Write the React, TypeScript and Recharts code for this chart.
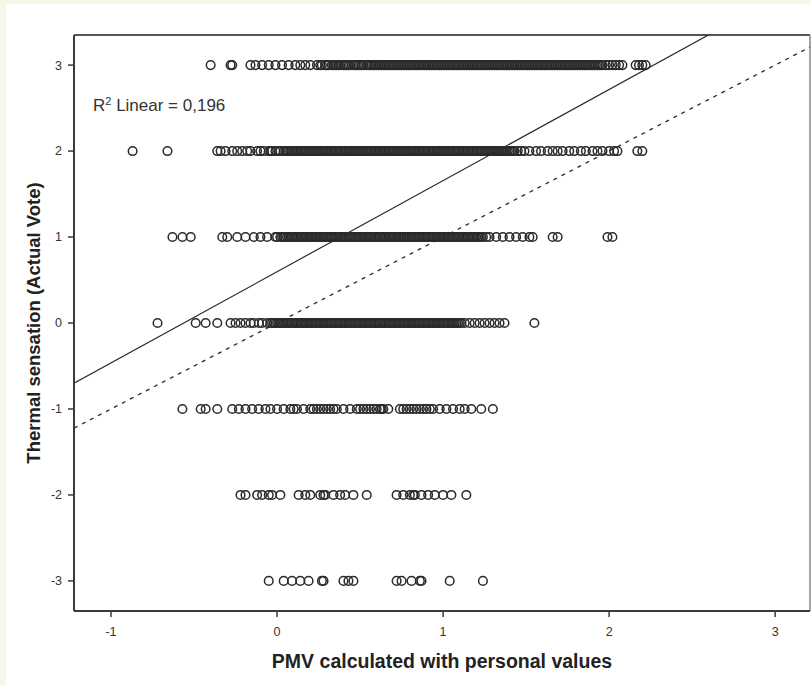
import React from "react";
import {
  ScatterChart,
  Scatter,
  XAxis,
  YAxis,
  ReferenceLine,
} from "recharts";

// x values (PMV) for each actual-vote row
const VOTE_3 = [
  -0.4, -0.28, -0.27, -0.16, -0.13, -0.09, -0.05, -0.01, 0.03, 0.07, 0.11, 0.14, 0.17, 0.2, 0.24, 0.26,
  0.29, 0.31, 0.34, 0.36, 0.38, 0.41, 0.43, 0.46, 0.48, 0.5, 0.52, 0.55, 0.57, 0.59, 0.61, 0.62, 0.64,
  0.66, 0.67, 0.69, 0.71, 0.72, 0.74, 0.76, 0.77, 0.79, 0.81, 0.82, 0.84, 0.86, 0.87, 0.89, 0.91, 0.93,
  0.95, 0.96, 0.98, 1.0, 1.02, 1.03, 1.05, 1.07, 1.08, 1.1, 1.12, 1.13, 1.15, 1.17, 1.18, 1.2, 1.22,
  1.23, 1.25, 1.27, 1.28, 1.3, 1.32, 1.33, 1.35, 1.37, 1.38, 1.4, 1.42, 1.43, 1.45, 1.47, 1.48, 1.5,
  1.52, 1.54, 1.56, 1.57, 1.59, 1.61, 1.62, 1.64, 1.66, 1.68, 1.7, 1.71, 1.73, 1.75, 1.77, 1.79, 1.8,
  1.82, 1.84, 1.86, 1.88, 1.9, 1.92, 1.94, 1.96, 1.98, 2.0, 2.02, 2.04, 2.06, 2.08, 2.16, 2.18, 2.2,
  2.22,
];
const VOTE_3_DENSE = [
  0.27, 0.3, 0.33, 0.35, 0.37, 0.4, 0.42, 0.44, 0.47, 0.49, 0.51, 0.54, 0.56, 0.58, 0.6, 0.63, 0.65,
  0.68, 0.7, 0.73, 0.75, 0.78, 0.8, 0.83, 0.85, 0.88, 0.9, 0.92, 0.94, 0.97, 0.99, 1.01, 1.04, 1.06,
  1.09, 1.11, 1.14, 1.16, 1.19, 1.21, 1.24, 1.26, 1.29, 1.31, 1.34, 1.36, 1.39, 1.41, 1.44, 1.46, 1.49,
  1.51, 1.53, 1.55, 1.58, 1.6, 1.63, 1.65, 1.67, 1.69, 1.72, 1.74, 1.76, 1.78, 1.81, 1.83, 1.85, 1.87,
  1.89, 1.91, 1.93, 1.95,
];
const VOTE_2 = [
  -0.87, -0.66, -0.36, -0.34, -0.31, -0.27, -0.24, -0.21, -0.18, -0.16, -0.12, -0.1, -0.08, -0.05, -0.03,
  0.01, 0.04, 0.06, 0.08, 0.1, 0.12, 0.14, 0.16, 0.18, 0.2, 0.22, 0.24, 0.25, 0.27, 0.29, 0.3, 0.32,
  0.34, 0.35, 0.37, 0.39, 0.4, 0.42, 0.44, 0.45, 0.47, 0.49, 0.5, 0.52, 0.54, 0.55, 0.57, 0.59, 0.6,
  0.62, 0.64, 0.65, 0.67, 0.69, 0.7, 0.72, 0.74, 0.75, 0.77, 0.79, 0.8, 0.82, 0.84, 0.85, 0.87, 0.89,
  0.9, 0.92, 0.94, 0.95, 0.97, 0.99, 1.0, 1.02, 1.04, 1.05, 1.07, 1.09, 1.1, 1.12, 1.14, 1.15, 1.17,
  1.19, 1.2, 1.22, 1.24, 1.25, 1.27, 1.29, 1.3, 1.32, 1.34, 1.35, 1.37, 1.39, 1.4, 1.42, 1.45, 1.49,
  1.52, 1.56, 1.59, 1.63, 1.66, 1.69, 1.72, 1.76, 1.79, 1.83, 1.86, 1.9, 1.93, 1.96, 2.0, 2.03, 2.05,
  2.17, 2.2,
];
const VOTE_2_DENSE = [
  -0.04, -0.01, 0.02, 0.05, 0.07, 0.09, 0.11, 0.13, 0.15, 0.17, 0.19, 0.21, 0.23, 0.26, 0.28, 0.31,
  0.33, 0.36, 0.38, 0.41, 0.43, 0.46, 0.48, 0.51, 0.53, 0.56, 0.58, 0.61, 0.63, 0.66, 0.68, 0.71, 0.73,
  0.76, 0.78, 0.81, 0.83, 0.86, 0.88, 0.91, 0.93, 0.96, 0.98, 1.01, 1.03, 1.06, 1.08, 1.11, 1.13, 1.16,
  1.18, 1.21, 1.23, 1.26, 1.28, 1.31, 1.33, 1.36, 1.38, 1.41, 1.43, 1.47,
];
const VOTE_1 = [
  -0.63, -0.57, -0.52, -0.33, -0.3, -0.24, -0.19, -0.14, -0.1, -0.06, -0.01, 0.02, 0.04, 0.06, 0.08,
  0.09, 0.11, 0.13, 0.14, 0.16, 0.18, 0.19, 0.21, 0.23, 0.24, 0.26, 0.28, 0.29, 0.31, 0.33, 0.34, 0.36,
  0.38, 0.39, 0.41, 0.43, 0.44, 0.46, 0.48, 0.49, 0.51, 0.53, 0.54, 0.56, 0.58, 0.59, 0.61, 0.63, 0.64,
  0.66, 0.68, 0.69, 0.71, 0.73, 0.74, 0.76, 0.78, 0.79, 0.81, 0.83, 0.84, 0.86, 0.88, 0.89, 0.91, 0.93,
  0.94, 0.96, 0.98, 0.99, 1.01, 1.03, 1.04, 1.06, 1.08, 1.09, 1.11, 1.13, 1.14, 1.16, 1.18, 1.19, 1.21,
  1.23, 1.24, 1.28, 1.32, 1.36, 1.4, 1.44, 1.48, 1.52, 1.54, 1.66, 1.69, 1.99, 2.02,
];
const VOTE_1_DENSE = [
  0.0, 0.03, 0.05, 0.07, 0.1, 0.12, 0.15, 0.17, 0.2, 0.22, 0.25, 0.27, 0.3, 0.32, 0.35, 0.37, 0.4,
  0.42, 0.45, 0.47, 0.5, 0.52, 0.55, 0.57, 0.6, 0.62, 0.65, 0.67, 0.7, 0.72, 0.75, 0.77, 0.8, 0.82,
  0.85, 0.87, 0.9, 0.92, 0.95, 0.97, 1.0, 1.02, 1.05, 1.07, 1.1, 1.12, 1.15, 1.17, 1.2, 1.22, 1.26,
];
const VOTE_0 = [
  -0.72, -0.49, -0.43, -0.36, -0.28, -0.25, -0.22, -0.19, -0.16, -0.14, -0.11, -0.09, -0.06, -0.04,
  -0.02, -0.01, 0.01, 0.03, 0.04, 0.06, 0.08, 0.09, 0.11, 0.13, 0.14, 0.16, 0.18, 0.19, 0.21, 0.23,
  0.24, 0.26, 0.28, 0.29, 0.31, 0.33, 0.34, 0.36, 0.38, 0.39, 0.41, 0.43, 0.44, 0.46, 0.48, 0.49, 0.51,
  0.53, 0.54, 0.56, 0.58, 0.59, 0.61, 0.63, 0.64, 0.66, 0.68, 0.69, 0.71, 0.73, 0.74, 0.76, 0.78, 0.79,
  0.81, 0.83, 0.84, 0.86, 0.88, 0.89, 0.91, 0.93, 0.94, 0.96, 0.98, 0.99, 1.01, 1.03, 1.04, 1.06, 1.08,
  1.1, 1.13, 1.16, 1.19, 1.22, 1.25, 1.28, 1.31, 1.34, 1.37, 1.55,
];
const VOTE_0_DENSE = [
  -0.03, 0.0, 0.02, 0.05, 0.07, 0.1, 0.12, 0.15, 0.17, 0.2, 0.22, 0.25, 0.27, 0.3, 0.32, 0.35, 0.37,
  0.4, 0.42, 0.45, 0.47, 0.5, 0.52, 0.55, 0.57, 0.6, 0.62, 0.65, 0.67, 0.7, 0.72, 0.75, 0.77, 0.8, 0.82,
  0.85, 0.87, 0.9, 0.92, 0.95, 0.97, 1.0, 1.02, 1.05, 1.07, 1.09, 1.11,
];
const VOTE_M1 = [
  -0.57, -0.46, -0.43, -0.36, -0.27, -0.23, -0.19, -0.15, -0.11, -0.07, -0.04, 0.0, 0.04, 0.08, 0.1,
  0.12, 0.16, 0.2, 0.22, 0.24, 0.26, 0.28, 0.3, 0.32, 0.34, 0.36, 0.4, 0.44, 0.48, 0.5, 0.52, 0.54,
  0.56, 0.58, 0.6, 0.62, 0.63, 0.64, 0.67, 0.74, 0.76, 0.78, 0.8, 0.82, 0.84, 0.86, 0.88, 0.9, 0.92,
  0.94, 0.98, 1.02, 1.06, 1.1, 1.13, 1.17, 1.23, 1.3,
];
const VOTE_M2 = [
  -0.22, -0.19, -0.12, -0.09, -0.05, -0.03, 0.02, 0.13, 0.17, 0.2, 0.26, 0.28, 0.29, 0.34, 0.38, 0.41,
  0.46, 0.54, 0.72, 0.76, 0.8, 0.82, 0.83, 0.87, 0.91, 0.95, 1.0, 1.05, 1.14,
];
const VOTE_M3 = [
  -0.05, 0.04, 0.09, 0.14, 0.19, 0.27, 0.28, 0.4, 0.43, 0.46, 0.72, 0.75, 0.81, 0.86, 0.87, 1.04, 1.24,
];

const ROWS: [number, number[]][] = [
  [3, VOTE_3],
  [3, VOTE_3_DENSE],
  [2, VOTE_2],
  [2, VOTE_2_DENSE],
  [1, VOTE_1],
  [1, VOTE_1_DENSE],
  [0, VOTE_0],
  [0, VOTE_0_DENSE],
  [-1, VOTE_M1],
  [-2, VOTE_M2],
  [-3, VOTE_M3],
];

const X_TICKS = [-1, 0, 1, 2, 3];
const Y_TICKS = [-3, -2, -1, 0, 1, 2, 3];
const X_DOMAIN: [number, number] = [-1.223, 3.21];
const Y_DOMAIN: [number, number] = [-3.35, 3.35];

// fitted line (R² 0,196) and the y = x reference
const FIT_SLOPE = 1.06;
const FIT_INTERCEPT = 0.596;

const points = ROWS.flatMap(([vote, xs]) => xs.map((x) => ({ x, y: vote })));

const fitSegment = [
  { x: X_DOMAIN[0], y: FIT_INTERCEPT + FIT_SLOPE * X_DOMAIN[0] },
  { x: X_DOMAIN[1], y: FIT_INTERCEPT + FIT_SLOPE * X_DOMAIN[1] },
];
const identitySegment = [
  { x: X_DOMAIN[0], y: X_DOMAIN[0] },
  { x: X_DOMAIN[1], y: X_DOMAIN[1] },
];

const INK = "#2a2a2a";
const FONT = "'Liberation Sans', Arial, sans-serif";

const Ring = (props: any) => (
  <circle cx={props.cx} cy={props.cy} r={4.3} fill="none" stroke={INK} strokeWidth={1.5} />
);

export default function App() {
  return (
    <div
      style={{
        position: "absolute",
        left: 0,
        top: 0,
        width: 811,
        height: 686,
        background: "#f6f7e6",
        fontFamily: FONT,
        overflow: "hidden",
      }}
    >
      <div
        style={{
          position: "absolute",
          left: 6,
          top: 4,
          width: 805,
          height: 682,
          background: "#ffffff",
        }}
      />
      <div style={{ position: "absolute", left: 0, top: 0 }}>
        <ScatterChart
          width={811}
          height={686}
          margin={{ top: 35, right: 1, bottom: 15, left: 34 }}
        >
          <XAxis
            type="number"
            dataKey="x"
            domain={X_DOMAIN}
            ticks={X_TICKS}
            allowDataOverflow
            height={60}
            tickSize={6}
            tickMargin={10}
            axisLine={{ stroke: "#3a3a3a", strokeWidth: 2 }}
            tickLine={{ stroke: "#3a3a3a", strokeWidth: 1.5 }}
            tick={{ fill: "#333", fontSize: 12.5, fontFamily: FONT }}
            label={{
              value: "PMV calculated with personal values",
              position: "insideBottom",
              offset: 3,
              style: { fill: "#222", fontSize: 19.5, fontWeight: 700, fontFamily: FONT },
            }}
          />
          <YAxis
            type="number"
            dataKey="y"
            domain={Y_DOMAIN}
            ticks={Y_TICKS}
            allowDataOverflow
            width={40}
            tickSize={6}
            tickMargin={6}
            axisLine={{ stroke: "#3a3a3a", strokeWidth: 2 }}
            tickLine={{ stroke: "#3a3a3a", strokeWidth: 1.5 }}
            tick={{ fill: "#333", fontSize: 12.5, fontFamily: FONT }}
            label={{
              value: "Thermal sensation (Actual Vote)",
              angle: -90,
              position: "insideLeft",
              offset: -1,
              style: {
                textAnchor: "middle",
                fill: "#222",
                fontSize: 18.5,
                fontWeight: 700,
                fontFamily: FONT,
              },
            }}
          />
          <ReferenceLine y={Y_DOMAIN[1]} stroke="#555" strokeWidth={2} ifOverflow="visible" />
          <ReferenceLine x={X_DOMAIN[1]} stroke="#888" strokeWidth={1.5} ifOverflow="visible" />
          <ReferenceLine
            segment={identitySegment}
            stroke={INK}
            strokeWidth={1.3}
            strokeDasharray="4 5"
            ifOverflow="hidden"
          />
          <ReferenceLine segment={fitSegment} stroke={INK} strokeWidth={1.2} ifOverflow="hidden" />
          <Scatter data={points} shape={Ring} isAnimationActive={false} />
        </ScatterChart>
      </div>
      <div
        style={{
          position: "absolute",
          left: 93,
          top: 97,
          fontSize: 17,
          lineHeight: "17px",
          color: "#333",
          whiteSpace: "nowrap",
        }}
      >
        R<span style={{ fontSize: 11, position: "relative", top: -6 }}>2</span> Linear = 0,196
      </div>
    </div>
  );
}
